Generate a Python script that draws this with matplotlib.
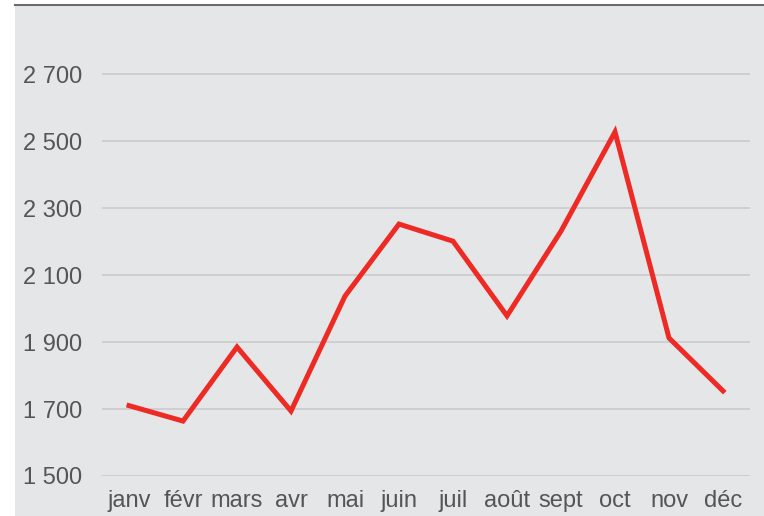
import matplotlib.pyplot as plt
from matplotlib.patches import Rectangle
from matplotlib.lines import Line2D

months = ['janv', 'févr', 'mars', 'avr', 'mai', 'juin',
          'juil', 'août', 'sept', 'oct', 'nov', 'déc']
values = [1710, 1664, 1885, 1694, 2037, 2252,
          2201, 1978, 2231, 2527, 1912, 1754]
yticks = [1500, 1700, 1900, 2100, 2300, 2500, 2700]

plt.rcParams['font.family'] = ['Liberation Sans', 'DejaVu Sans']

W, H = 764, 516
fig = plt.figure(figsize=(W / 100, H / 100), dpi=100)
fig.patch.set_facecolor('white')

# gray panel and dark top rule
fig.patches.append(Rectangle((15 / W, 0), 1, (H - 5) / H, transform=fig.transFigure,
                             facecolor='#e5e6e8', edgecolor='none', zorder=-2))
fig.lines.append(Line2D([15 / W, 1], [(H - 4.5) / H] * 2, transform=fig.transFigure,
                        color='#6b6b6d', linewidth=1.5, zorder=-1))

ax = fig.add_axes([102 / W, 40 / H, 648 / W, 471 / H])
ax.set_zorder(2)
ax.patch.set_alpha(0)

x = range(len(months))
ax.plot(x, values, color='#ee2a24', linewidth=3.6, solid_joinstyle='miter', zorder=3)

ax.set_xlim(-0.5, len(months) - 0.5)
ax.set_ylim(1500, 1500 + 471 / 67 * 200)
ax.set_yticks(yticks)
ax.set_yticklabels([f'{v:,}'.replace(',', ' ') for v in yticks])
ax.set_xticks(list(x))
ax.set_xticklabels(months)
ax.yaxis.grid(True, color='#cbcbcd', linewidth=1.2)
ax.set_axisbelow(True)
for s in ax.spines.values():
    s.set_visible(False)
ax.tick_params(length=0, labelsize=17, colors='#555557')
ax.tick_params(axis='y', pad=14)
ax.tick_params(axis='x', pad=10)

fig.savefig('out.png', dpi=100)
